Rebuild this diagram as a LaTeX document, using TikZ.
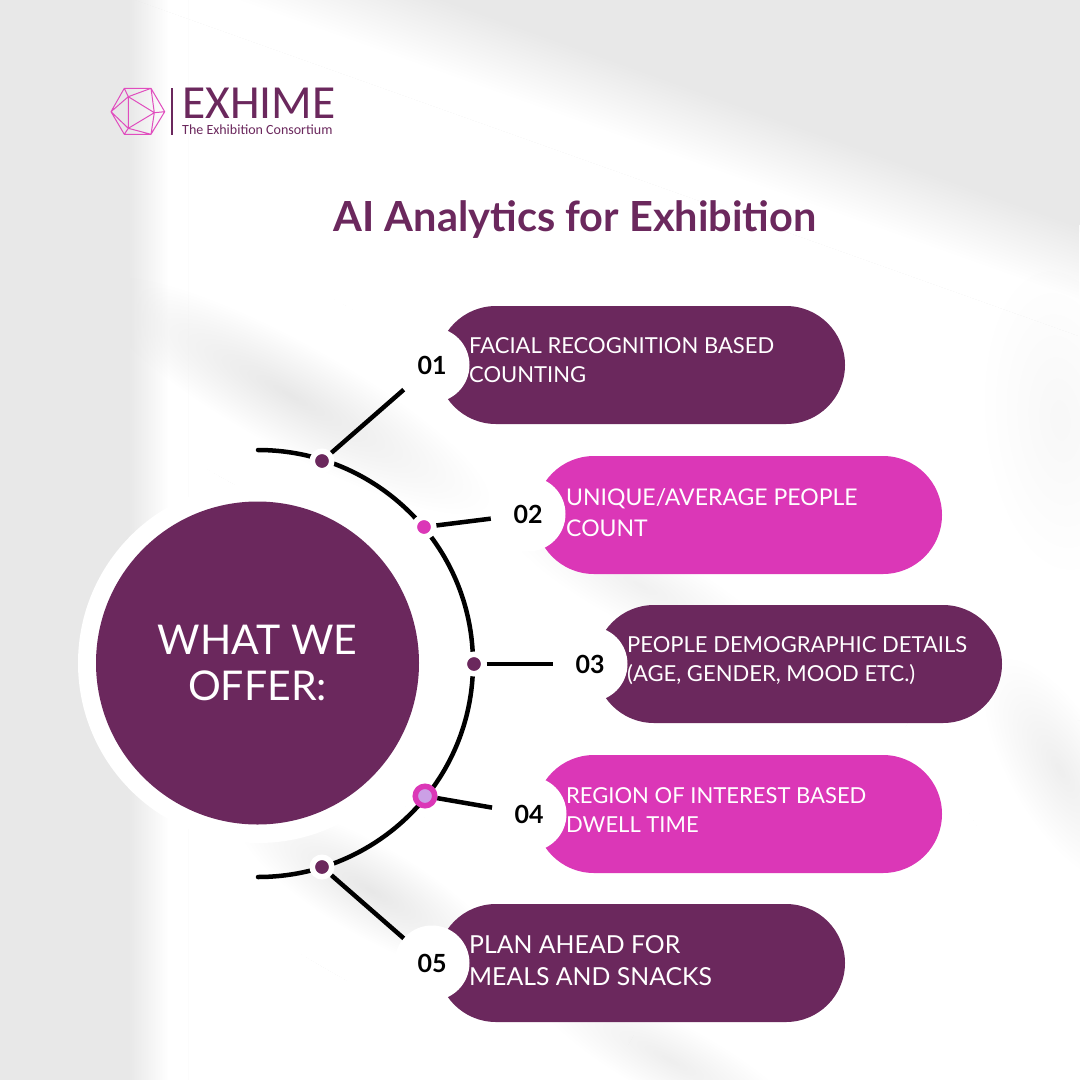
\documentclass[tikz,border=0pt]{standalone}
\usepackage{fontspec}
\setmainfont{Lato}
\newfontfamily\logofont{Carlito}
\usetikzlibrary{fadings}
\definecolor{exhpurple}{HTML}{6B285D}
\definecolor{exhpink}{HTML}{DB37B7}
\definecolor{exhlogo}{HTML}{E04DBE}
\definecolor{exhlilac}{HTML}{CBA0E6}
\definecolor{exhgray}{HTML}{E8E8E8}
\tikzset{
  pill/.style={rounded corners=59pt},
  numdisc/.style={circle,fill=white,minimum size=75pt,inner sep=0pt,outer sep=0pt,font=\fontsize{25}{25}\selectfont\bfseries},
  pilltext/.style 2 args={anchor=west,align=left,text=white,inner sep=0pt,font=\fontsize{#1}{#2}\selectfont},
  dotnode/.style={circle,draw=white,line width=5.5pt,fill=#1,minimum size=19.5pt,inner sep=0pt,outer sep=2.75pt},
  link/.style={line width=4.5pt,black},
}
\tikzfading[name=softglow,inner color=transparent!0,outer color=transparent!100]
\tikzfading[name=softstep,top color=transparent!0,bottom color=transparent!100]
\tikzfading[name=softside,left color=transparent!0,right color=transparent!100]
\newcommand{\glow}[6]{\fill[exhgray,opacity=#6,path fading=softglow,fit fading=false,
  fading transform={shift={(#1,#2)},rotate=#3,xscale=#4,yscale=#5}] (0,0) rectangle (1080,1080);}
\begin{document}
\begin{tikzpicture}[x=1pt,y=-1pt]
\useasboundingbox (0,0) rectangle (1080,1080);

% Background
\fill[white] (0,0) rectangle (1080,1080);
% left column
\fill[exhgray] (0,0) rectangle (128,1080);
\fill[exhgray,path fading=softside,fit fading=false,
  fading transform={shift={(148,540)},xscale=.8,yscale=15}] (0,0) rectangle (1080,1080);
% top right wedge
\fill[exhgray] (450,0) -- (1080,0) -- (1080,225) -- cycle;
\fill[exhgray,path fading=softstep,fit fading=false,
  fading transform={shift={(600,91)},rotate=-19.6,xscale=30,yscale=1.4}] (0,0) rectangle (1080,1080);
% soft bands
\glow{290}{395}{-29}{9}{2.1}{1}
\glow{640}{585}{-27}{6}{1.6}{.6}
\glow{370}{890}{-30}{6}{1.8}{1}
\glow{670}{1060}{-28}{6}{1.5}{.7}
\glow{1060}{770}{-60}{5}{2}{.7}
\glow{1060}{420}{-85}{6}{3}{.3}

% Logo
\draw[exhlogo,line width=1pt,line join=round]
  (124.3,88.3) -- (151,88.3) -- (164.7,111.7) -- (151,134.3) -- (124.3,134.3) -- (111,111.7) -- cycle
  (128.3,96.7) -- (154.3,112.7) -- (128.3,128.3) -- cycle
  (124.3,88.3) -- (128.3,96.7) -- (151,88.3) -- (154.3,112.7) -- (164.7,111.7)
  (111,111.7) -- (128.3,96.7)
  (111,111.7) -- (128.3,128.3) -- (124.3,134.3)
  (128.3,128.3) -- (151,134.3) -- (154.3,112.7);
\fill[exhpurple] (170.5,88) rectangle (172.5,135);
\node[anchor=base west,inner sep=0pt,text=exhpurple,font=\logofont\fontsize{47.5}{47.5}\selectfont] (logoname) at (182,118) {EXHIME};
\node[anchor=base west,inner sep=0pt,text=exhpurple,font=\logofont\fontsize{14}{14}\selectfont] (logotag) at (182,134.5) {The Exhibition Consortium};

% Title
\node[text=exhpurple,inner sep=0pt,font=\fontsize{41.5}{41.5}\selectfont\bfseries] (title) at (575,219.5) {AI Analytics for Exhibition};

% Big circle
\fill[white] (258,663) circle (180);
\node[circle,fill=exhpurple,minimum size=323pt,inner sep=0pt,align=center,text=white,font=\fontsize{41}{46}\selectfont] (offer) at (257.5,663) {WHAT WE\\OFFER:};

% Arc
\draw[line width=4.5pt,black,line cap=round] (258,450) arc (-90:90:215 and 213.5);

% Pills
\fill[exhpurple,pill] (437,306) rectangle (845,424);
\fill[exhpink,pill] (535,456) rectangle (942,574);
\fill[exhpurple,pill] (595,605) rectangle (1002,723);
\fill[exhpink,pill] (535,755) rectangle (942,873);
\fill[exhpurple,pill] (437,904) rectangle (845,1022);

% Numbers
\node[numdisc] (num1) at (432,365) {01};
\node[numdisc] (num2) at (528,514) {02};
\node[numdisc] (num3) at (590,664) {03};
\node[numdisc] (num4) at (529,814) {04};
\node[numdisc] (num5) at (432,963) {05};

% Dots
\node[dotnode=exhpurple] (dot1) at (322,461) {};
\node[dotnode=exhpink] (dot2) at (424,527) {};
\node[dotnode=exhpurple] (dot3) at (474,664) {};
\node[dotnode=exhlilac,draw=exhpink] (dot4) at (425,796) {};
\node[dotnode=exhpurple] (dot5) at (322,867) {};

% Links
\draw[link] (dot1) -- (num1);
\draw[link] (dot2) -- (num2);
\draw[link] (dot3) -- (num3);
\draw[link] (dot4) -- (num4);
\draw[link] (dot5) -- (num5);

% Labels
\node[pilltext={22}{29}] (text1) at (469,360.5) {FACIAL RECOGNITION BASED\\COUNTING};
\node[pilltext={23}{31}] (text2) at (566,512.5) {UNIQUE/AVERAGE PEOPLE\\COUNT};
\node[pilltext={22}{29}] (text3) at (627,661) {PEOPLE DEMOGRAPHIC DETAILS\\(AGE, GENDER, MOOD ETC.)};
\node[pilltext={22}{29}] (text4) at (566,810.5) {REGION OF INTEREST BASED\\DWELL TIME};
\node[pilltext={24.8}{32}] (text5) at (469,961) {PLAN AHEAD FOR\\MEALS AND SNACKS};

\end{tikzpicture}
\end{document}
